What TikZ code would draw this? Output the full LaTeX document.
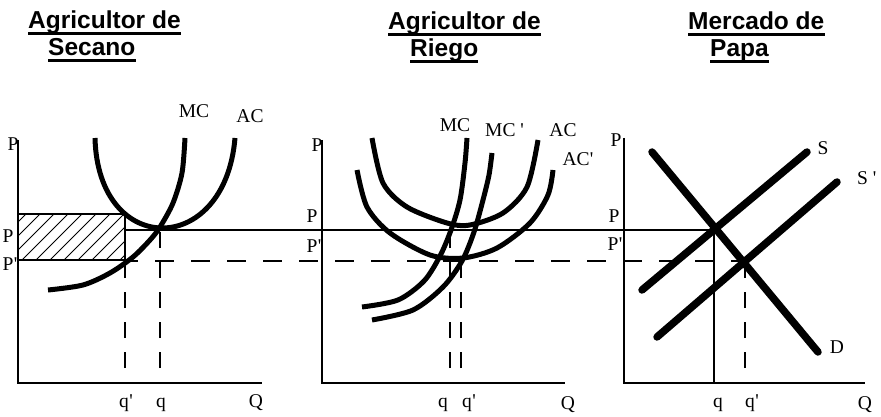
\documentclass[tikz,border=0pt]{standalone}
\usepackage{fontspec}
\setmainfont{Liberation Serif}
\newfontfamily\titlefont{Liberation Sans}
\newcommand{\pr}{\kern0.3pt\textquotesingle}
\begin{document}
\begin{tikzpicture}[x=1pt,y=-1pt,
  lbl/.style={font=\fontsize{19.5}{19.5}\selectfont, inner sep=0, anchor=base},
  ttl/.style={font=\titlefont\bfseries\fontsize{24.5}{24.5}\selectfont, inner sep=0, anchor=base west},
  axisline/.style={line width=2pt},
  curve/.style={line width=5pt},
  sline/.style={line width=7.5pt, line cap=round},
  pline/.style={line width=1.4pt},
  dline/.style={line width=1.6pt, dash pattern=on 19pt off 17pt, dash phase=6pt},
  vdash/.style={line width=1.6pt, dash pattern=on 16pt off 14pt},
  hatch/.style={line width=0.9pt}
]
\useasboundingbox (0,0) rectangle (881,417);

% titles
\node[ttl] (t1a) at (28,29) {Agricultor de};
\node[ttl] (t1b) at (48,56) {Secano};
\node[ttl] (t2a) at (388,30) {Agricultor de};
\node[ttl] (t2b) at (410,57) {Riego};
\node[ttl] (t3a) at (688,30) {Mercado de};
\node[ttl] (t3b) at (710,57) {Papa};
\foreach \n in {t1a,t1b,t2a,t2b,t3a,t3b}
  \draw[line width=2.4pt] ([yshift=-4.5pt]\n.base west) -- ([yshift=-4.5pt]\n.base east);

% axes
\draw[axisline] (18,140) -- (18,383) -- (262,383);
\draw[axisline] (322,140) -- (322,383) -- (565,383);
\draw[axisline] (624,138) -- (624,383) -- (865,383);

% hatched rectangle
\begin{scope}
  \clip (18,214) rectangle (125,260);
  \foreach \x in {-34,-20,...,122} \draw[hatch] (\x,260) -- ++(50,-50);
\end{scope}
\draw[pline] (18,214) rectangle (125,260);

% price lines
\draw[pline] (125,230) -- (715,230);
\draw[dline] (125,261) -- (745,261);

% vertical guides
\draw[vdash] (125,368) -- (125,261);
\draw[vdash] (160,368) -- (160,230);
\draw[vdash] (450,368) -- (450,230);
\draw[vdash] (461,368) -- (461,261);
\draw[pline] (714,230) -- (714,383);
\draw[vdash] (745,368) -- (745,261);

% panel 1 curves
\draw[curve] plot[smooth] coordinates {(48,290) (83,285) (110,273) (133,257) (150,240) (160,227) (173,203) (182,173) (185,138)};
\draw[curve] (95,138) .. controls (98,258) and (225,258) .. (235,138);

% panel 2 curves
\draw[curve] plot[smooth] coordinates {(372,138) (383,183) (407,207) (447,223) (470,225) (503,213) (527,187) (538,140)};
\draw[curve] plot[smooth] coordinates {(357,170) (367,207) (390,233) (430,255) (463,258) (497,248) (530,223) (548,195) (553,170)};
\draw[curve] plot[smooth] coordinates {(362,307) (398,300) (424,281) (440,256) (451,230) (460,200) (465,163) (467,138)};
\draw[curve] plot[smooth] coordinates {(372,320) (413,310) (443,287) (462,261) (474,232) (483,200) (489,175) (492,153)};

% panel 3 lines
\draw[sline] (652,152) -- (818,352);
\draw[sline] (642,290) -- (807,152);
\draw[sline] (657,337) -- (837,182);

% panel 1 labels
\node[lbl] at (13,151) {P};
\node[lbl] at (8,242) {P};
\node[lbl] at (10,270) {P\pr};
\node[lbl] at (126,407) {q\pr};
\node[lbl] at (161,407) {q};
\node[lbl] at (256,407) {Q};
\node[lbl] at (194,118) {MC};
\node[lbl] at (250,123) {AC};

% panel 2 labels
\node[lbl] at (317,152) {P};
\node[lbl] at (312,222) {P};
\node[lbl] at (314,252) {P\pr};
\node[lbl] at (443,407) {q};
\node[lbl] at (469,407) {q\pr};
\node[lbl] at (568,409) {Q};
\node[lbl] at (455,132) {MC};
\node[lbl,anchor=base west] at (485,137) {MC \textquotesingle};
\node[lbl] at (563,137) {AC};
\node[lbl] at (578,165) {AC\pr};

% panel 3 labels
\node[lbl] at (616,147) {P};
\node[lbl] at (614,222) {P};
\node[lbl] at (615,250) {P\pr};
\node[lbl] at (718,407) {q};
\node[lbl] at (752,407) {q\pr};
\node[lbl] at (865,409) {Q};
\node[lbl] at (823,155) {S};
\node[lbl,anchor=base west] at (857,185) {S \textquotesingle};
\node[lbl] at (837,353) {D};
\end{tikzpicture}
\end{document}
